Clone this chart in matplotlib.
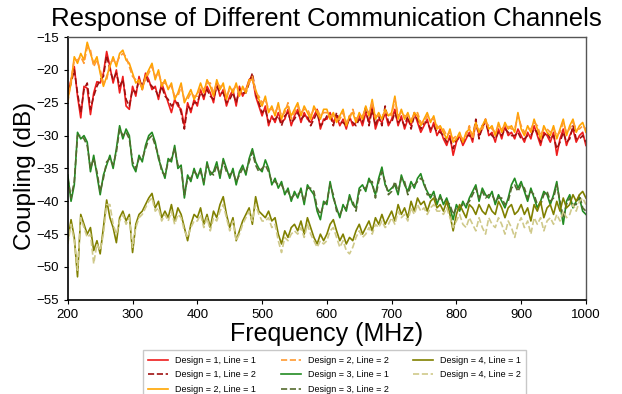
import numpy as np
import matplotlib
matplotlib.use("Agg")
import matplotlib.pyplot as plt

plt.rcParams['font.family'] = ['Liberation Sans', 'DejaVu Sans']

# frequency grid (MHz)
freq = np.arange(200, 1001, 5)

# coupling values (dB), 5 MHz steps
d1_l1 = [
    -23.5, -21.5, -19.5, -24.0, -27.3, -22.5, -22.8, -26.8, -23.5, -21.8,
    -22.0, -20.5, -17.2, -19.5, -22.0, -20.0, -23.5, -21.0, -25.5, -26.0,
    -22.5, -24.0, -21.0, -23.0, -20.5, -21.5, -23.0, -22.5, -24.5, -22.0,
    -23.5, -25.0, -26.5, -24.5, -25.5, -26.0, -28.5, -25.0, -26.5, -24.5,
    -25.5, -23.0, -24.5, -22.5, -23.5, -25.0, -22.0, -24.0, -23.0, -25.5,
    -24.0, -23.0, -25.5, -22.5, -24.0, -23.0, -21.5, -21.0, -24.0, -25.5,
    -27.0, -25.5, -28.5, -27.0, -28.0, -26.5, -28.0, -27.5, -26.0, -28.5,
    -27.0, -26.0, -28.0, -26.5, -27.5, -28.0, -27.0, -26.0, -29.0, -27.5,
    -27.5, -26.5, -28.0, -27.0, -28.5, -27.5, -29.0, -27.0, -28.5, -28.0,
    -27.0, -28.5, -26.5, -28.0, -25.5, -29.0, -27.5, -28.0, -26.5, -28.5,
    -27.5, -26.0, -28.5, -27.0, -29.0, -27.5, -28.5, -26.5, -28.0, -29.5,
    -28.5, -27.5, -29.5, -28.0, -30.0, -29.0, -30.5, -31.5, -30.0, -33.0,
    -31.0, -30.0, -31.5, -30.5, -29.5, -31.0, -28.0, -30.0, -29.0, -27.5,
    -30.0, -29.5, -31.0, -29.0, -30.5, -28.5, -30.0, -29.5, -30.5, -29.0,
    -30.0, -31.0, -29.5, -30.5, -28.5, -30.0, -31.5, -29.5, -30.0, -31.0,
    -29.5, -33.0, -30.5, -29.0, -31.5, -30.0, -29.0, -31.0, -30.0, -29.5,
    -31.5]

d1_l2 = [
    -24.0, -22.0, -20.0, -23.5, -26.5, -23.0, -22.0, -26.0, -24.0, -22.5,
    -21.5, -21.0, -17.8, -20.0, -21.5, -20.5, -22.5, -21.5, -24.5, -25.5,
    -23.0, -23.5, -21.5, -22.5, -21.0, -22.0, -22.5, -23.0, -24.0, -22.5,
    -24.0, -24.5, -25.5, -25.0, -25.0, -26.5, -29.0, -25.5, -26.0, -25.0,
    -25.0, -23.5, -24.0, -23.0, -24.0, -24.5, -22.5, -23.5, -23.5, -25.0,
    -24.5, -23.5, -25.0, -23.0, -23.5, -23.5, -22.0, -20.5, -23.5, -25.0,
    -26.5, -26.0, -28.0, -27.5, -27.5, -27.0, -28.5, -27.0, -26.5, -28.0,
    -27.5, -26.5, -27.5, -27.0, -27.0, -28.5, -27.5, -26.5, -28.5, -28.0,
    -27.0, -27.0, -28.5, -26.5, -28.0, -28.0, -28.5, -27.5, -28.0, -28.5,
    -27.5, -28.0, -25.5, -28.5, -26.0, -28.5, -27.0, -28.5, -25.5, -28.0,
    -28.0, -26.5, -28.0, -27.5, -28.5, -27.0, -29.0, -27.0, -27.5, -29.0,
    -28.0, -28.0, -29.0, -28.5, -29.5, -29.5, -30.0, -31.0, -30.5, -32.0,
    -30.5, -30.5, -31.0, -30.0, -30.0, -30.5, -27.5, -30.5, -28.5, -28.0,
    -29.5, -30.0, -30.5, -29.5, -30.0, -29.0, -29.5, -30.0, -30.0, -29.5,
    -30.5, -30.5, -30.0, -30.0, -29.0, -29.5, -31.0, -30.0, -29.5, -30.5,
    -30.0, -32.0, -31.0, -29.5, -31.0, -30.5, -28.5, -30.5, -30.5, -30.0,
    -31.0]

d2_l1 = [
    -24.5, -22.0, -18.0, -19.0, -17.5, -18.5, -15.8, -17.5, -19.0, -18.0,
    -20.5, -22.5, -21.0, -19.5, -18.0, -19.5, -17.5, -17.0, -18.5, -19.0,
    -20.5, -22.0, -21.5, -23.0, -21.0, -20.0, -19.0, -21.5, -20.0, -22.5,
    -21.5, -23.0, -22.0, -24.5, -23.5, -22.0, -25.0, -24.0, -23.0, -24.5,
    -23.5, -22.0, -23.5, -21.5, -22.5, -24.0, -21.5, -23.0, -22.0, -24.5,
    -22.5, -23.5, -22.0, -24.0, -22.5, -23.5, -21.5, -21.5, -23.0, -24.5,
    -25.5, -24.0, -26.5, -25.5, -27.0, -25.0, -27.5, -26.0, -25.5, -27.0,
    -26.0, -25.0, -27.0, -25.5, -26.5, -27.5, -25.5, -26.5, -27.5, -26.0,
    -26.0, -27.5, -26.5, -28.0, -27.0, -26.0, -28.5, -27.0, -26.5, -28.0,
    -26.5, -27.5, -25.5, -27.0, -24.5, -27.5, -26.5, -27.5, -26.0, -27.0,
    -26.5, -24.0, -27.5, -26.0, -27.5, -26.5, -28.0, -26.5, -27.0, -28.5,
    -27.5, -26.5, -28.0, -27.0, -29.0, -28.5, -29.5, -30.5, -29.0, -31.0,
    -30.5, -29.5, -31.0, -29.5, -29.0, -30.0, -28.0, -29.5, -28.5, -27.5,
    -29.0, -28.5, -30.0, -28.0, -29.5, -28.0, -29.0, -28.5, -29.5, -26.5,
    -29.0, -30.0, -28.5, -29.5, -27.5, -29.0, -30.5, -28.5, -29.5, -30.0,
    -28.5, -30.5, -29.0, -27.5, -30.0, -28.5, -27.5, -29.5, -28.5, -28.0,
    -29.5]

d2_l2 = [
    -25.0, -21.5, -18.5, -18.5, -18.0, -19.0, -16.5, -17.0, -19.5, -18.5,
    -20.0, -22.0, -21.5, -19.0, -18.5, -19.0, -18.0, -17.5, -18.0, -19.5,
    -21.0, -21.5, -22.0, -22.5, -21.5, -20.5, -19.5, -21.0, -20.5, -22.0,
    -22.0, -22.5, -22.5, -24.0, -24.0, -22.5, -24.5, -24.5, -23.5, -24.0,
    -24.0, -22.5, -23.0, -22.0, -22.0, -23.5, -22.0, -22.5, -22.5, -24.0,
    -23.0, -23.0, -22.5, -23.5, -23.0, -23.0, -22.0, -21.0, -23.5, -24.0,
    -25.0, -24.5, -26.0, -26.0, -26.5, -25.5, -27.0, -26.5, -25.0, -27.5,
    -26.5, -25.5, -26.5, -26.0, -26.0, -27.0, -26.0, -26.0, -27.0, -26.5,
    -26.5, -27.0, -27.0, -27.5, -27.5, -26.5, -28.0, -27.5, -26.0, -27.5,
    -27.0, -27.0, -26.0, -26.5, -25.0, -27.0, -27.0, -27.0, -26.5, -26.5,
    -27.0, -24.5, -27.0, -26.5, -27.0, -27.0, -27.5, -27.0, -26.5, -28.0,
    -28.0, -27.0, -27.5, -27.5, -28.5, -29.0, -29.0, -30.0, -29.5, -30.5,
    -30.0, -30.0, -30.5, -30.0, -28.5, -30.5, -28.5, -29.0, -29.0, -28.0,
    -28.5, -29.0, -29.5, -28.5, -29.0, -28.5, -28.5, -29.0, -29.0, -27.0,
    -28.5, -29.5, -29.0, -29.0, -28.0, -28.5, -30.0, -29.0, -29.0, -29.5,
    -29.0, -30.0, -29.5, -28.0, -29.5, -29.0, -28.0, -29.0, -29.0, -28.5,
    -29.0]

d3_l1 = [
    -36.0, -40.0, -37.5, -29.5, -30.5, -30.0, -31.0, -35.5, -33.0, -36.0,
    -39.0, -36.0, -34.5, -33.0, -35.0, -32.0, -28.5, -30.5, -29.0, -30.0,
    -34.5, -35.5, -33.0, -34.0, -31.5, -30.0, -29.5, -31.0, -33.5, -35.0,
    -36.5, -33.5, -34.0, -31.5, -35.0, -34.5, -39.5, -36.0, -37.0, -35.0,
    -36.5, -35.0, -37.5, -34.0, -36.0, -35.5, -34.0, -36.5, -33.5, -35.0,
    -36.5, -35.0, -37.5, -35.5, -34.5, -36.0, -33.5, -32.0, -34.0, -35.0,
    -35.5, -33.7, -35.0, -37.5, -36.5, -38.0, -37.0, -39.0, -38.0, -40.0,
    -38.5, -39.5, -38.0, -40.5, -37.5, -38.3, -39.0, -41.5, -42.8, -40.0,
    -40.5, -37.0, -39.5, -41.0, -42.5, -40.5, -41.5, -39.0, -40.5, -41.0,
    -38.0, -37.5, -38.5, -36.5, -37.5, -39.0, -36.5, -34.8, -37.5, -38.5,
    -38.0, -37.5, -39.0, -36.0, -37.5, -38.5, -37.0, -38.0, -36.5, -35.8,
    -37.5, -38.5, -39.5, -38.5, -40.5, -39.0, -40.5, -39.5, -41.0, -42.8,
    -40.5, -41.5, -40.0, -41.0, -39.5, -38.5, -37.5, -40.0, -38.0, -39.0,
    -39.5, -38.5, -40.5, -39.0, -40.0, -41.0, -39.5, -37.5, -36.5, -38.0,
    -37.0, -38.5, -40.0, -38.0, -39.5, -41.0, -40.0, -38.5, -39.0, -40.5,
    -39.0, -37.0, -40.5, -43.5, -40.0, -39.0, -41.0, -40.0, -39.5, -41.5,
    -42.0]

d3_l2 = [
    -36.5, -39.5, -37.0, -30.0, -30.0, -30.5, -31.5, -35.0, -33.5, -35.5,
    -38.5, -36.5, -34.0, -33.5, -34.5, -32.5, -29.0, -30.0, -29.5, -30.5,
    -34.0, -35.0, -33.5, -33.5, -32.0, -30.5, -30.0, -31.5, -33.0, -35.5,
    -36.0, -34.0, -33.5, -32.0, -34.5, -35.0, -39.0, -36.5, -36.5, -35.5,
    -36.0, -35.5, -37.0, -34.5, -35.5, -36.0, -34.5, -36.0, -34.0, -35.5,
    -36.0, -35.5, -37.0, -36.0, -35.0, -35.5, -34.0, -32.5, -34.5, -35.5,
    -35.0, -34.5, -35.5, -37.0, -37.0, -37.5, -37.5, -38.5, -38.5, -39.5,
    -39.0, -39.0, -38.5, -40.0, -38.0, -38.0, -38.5, -41.0, -42.0, -40.5,
    -40.0, -37.5, -39.0, -41.5, -42.0, -41.0, -41.0, -39.5, -40.0, -41.5,
    -38.5, -38.0, -38.0, -37.0, -37.0, -39.5, -37.0, -35.5, -37.0, -39.0,
    -38.5, -37.0, -38.5, -36.5, -37.0, -39.0, -37.5, -37.5, -37.0, -36.5,
    -37.0, -39.0, -39.0, -39.0, -40.0, -39.5, -40.0, -40.0, -40.5, -42.0,
    -41.0, -41.0, -40.5, -40.5, -40.0, -39.0, -38.0, -39.5, -38.5, -39.5,
    -39.0, -39.0, -40.0, -39.5, -39.5, -40.5, -40.0, -38.0, -37.5, -38.5,
    -37.5, -38.0, -39.5, -38.5, -39.0, -40.5, -40.5, -39.0, -38.5, -40.0,
    -39.5, -37.5, -40.0, -42.5, -40.5, -39.5, -40.5, -40.5, -39.0, -41.0,
    -41.5]

d4_l1 = [
    -46.0, -42.8, -45.5, -51.5, -42.0, -43.5, -45.0, -44.0, -47.5, -46.0,
    -48.0, -44.0, -39.8, -42.5, -44.0, -46.3, -42.5, -41.5, -43.0, -42.0,
    -47.8, -43.5, -42.0, -41.5, -40.5, -39.5, -38.8, -41.0, -40.0, -42.5,
    -41.5, -42.5, -40.5, -43.0, -41.0, -42.0, -44.0, -46.0, -43.5, -42.0,
    -42.5, -41.0, -43.5, -42.0, -44.0, -41.5, -42.5, -40.5, -39.3, -42.0,
    -44.0, -42.5, -46.0, -44.5, -43.0, -42.0, -41.0, -43.5, -39.3, -41.5,
    -42.0, -42.5, -41.5, -43.0, -42.5, -45.0, -46.5, -44.5, -45.5, -44.0,
    -43.5, -44.5, -43.0, -45.0, -42.5, -44.0, -45.5, -46.5, -45.0, -46.0,
    -45.0, -43.5, -42.8, -44.5, -46.0, -45.0, -46.5, -45.5, -46.0, -44.5,
    -43.5, -45.0, -44.0, -43.0, -44.5, -42.5, -43.5, -42.0, -43.5, -42.5,
    -41.5, -43.0, -40.5, -42.0, -41.0, -42.5, -40.0, -41.5, -39.5, -40.5,
    -40.0, -41.5, -40.0, -39.5, -41.0, -40.5, -41.5, -40.0, -42.0, -44.5,
    -42.0, -40.5, -41.5, -42.5, -40.5, -41.0, -42.0, -40.5, -41.5, -42.0,
    -40.5, -41.5, -42.0, -40.0, -41.0, -42.5, -41.0, -40.5, -42.0, -41.5,
    -40.5, -42.0, -41.0, -43.0, -40.5, -41.5, -40.0, -42.5, -41.0, -40.5,
    -42.0, -40.0, -41.5, -39.5, -41.0, -40.5, -39.0, -40.0, -39.0, -38.5,
    -39.5]

d4_l2 = [
    -46.5, -43.5, -46.0, -50.5, -42.5, -44.0, -45.5, -45.0, -49.5, -46.5,
    -47.5, -45.0, -40.5, -40.5, -43.5, -45.0, -43.0, -42.0, -43.5, -42.5,
    -47.0, -44.0, -42.5, -42.0, -41.0, -40.0, -39.5, -41.5, -41.0, -43.0,
    -42.0, -43.0, -41.5, -43.5, -42.0, -42.5, -44.5, -45.5, -44.0, -43.0,
    -43.0, -42.0, -44.0, -42.5, -44.5, -42.5, -43.0, -41.5, -40.5, -42.5,
    -44.5, -43.0, -46.0, -45.0, -43.5, -42.5, -41.5, -43.0, -40.5, -42.0,
    -43.0, -43.0, -42.5, -44.0, -43.5, -46.0, -47.8, -45.5, -46.0, -45.0,
    -44.5, -45.0, -44.0, -45.5, -43.5, -45.0, -46.0, -47.0, -46.0, -46.5,
    -46.0, -44.5, -44.0, -45.5, -47.0, -46.0, -47.5, -48.0, -47.0, -45.5,
    -44.5, -45.5, -45.0, -44.0, -45.0, -43.5, -44.0, -43.0, -44.0, -43.5,
    -42.5, -43.5, -41.5, -42.5, -42.0, -43.0, -41.0, -42.0, -40.5, -41.5,
    -41.0, -42.0, -41.0, -40.5, -41.5, -41.5, -42.0, -41.0, -42.5, -44.0,
    -43.0, -42.0, -43.5, -44.0, -42.5, -43.5, -44.5, -42.5, -44.0, -45.0,
    -42.5, -43.5, -44.0, -42.5, -43.5, -45.0, -43.0, -44.0, -45.5, -43.5,
    -42.5, -44.0, -43.0, -45.0, -42.5, -43.5, -42.5, -44.5, -43.0, -42.5,
    -43.5, -42.0, -43.0, -41.5, -42.5, -42.0, -40.5, -41.5, -40.0, -39.5,
    -40.5]

series = [
    ("Design = 1, Line = 1", d1_l1, "#ee1c1c", "-"),
    ("Design = 1, Line = 2", d1_l2, "#a01010", "--"),
    ("Design = 2, Line = 1", d2_l1, "#ffa500", "-"),
    ("Design = 2, Line = 2", d2_l2, "#ff9a30", "--"),
    ("Design = 3, Line = 1", d3_l1, "#228b22", "-"),
    ("Design = 3, Line = 2", d3_l2, "#556b2f", "--"),
    ("Design = 4, Line = 1", d4_l1, "#808000", "-"),
    ("Design = 4, Line = 2", d4_l2, "#cfc98a", "--"),
]

fig = plt.figure(figsize=(6.22, 3.94), dpi=100)
ax = fig.add_axes([0.109, 0.239, 0.833, 0.667])

for label, vals, col, ls in series:
    ax.plot(freq, vals, color=col, linestyle=ls, linewidth=1.2, label=label)

ax.set_xlim(200, 1000)
ax.set_ylim(-55, -15)
ax.set_xticks(range(200, 1001, 100))
ax.set_yticks(range(-55, -14, 5))
ax.tick_params(labelsize=9.5, length=3)
ax.set_title("Response of Different Communication Channels", fontsize=18.5, pad=8)
ax.set_xlabel("Frequency (MHz)", fontsize=18, labelpad=1)
ax.set_ylabel("Coupling (dB)", fontsize=17.5, labelpad=1)
ax.yaxis.set_label_coords(-0.062, 0.47)

for side in ['left', 'bottom']:
    ax.spines[side].set_color('black')
    ax.spines[side].set_linewidth(1.2)
for side in ['top', 'right']:
    ax.spines[side].set_color('#555555')
    ax.spines[side].set_linewidth(1.0)

fig.legend(loc='upper center', bbox_to_anchor=(0.538, 0.122), ncol=3,
           fontsize=6.5, frameon=True, handlelength=2.2, columnspacing=2.7,
           labelspacing=0.6, borderpad=0.6, fancybox=False,
           edgecolor='#bbbbbb')

fig.savefig("out.png", dpi=100)
